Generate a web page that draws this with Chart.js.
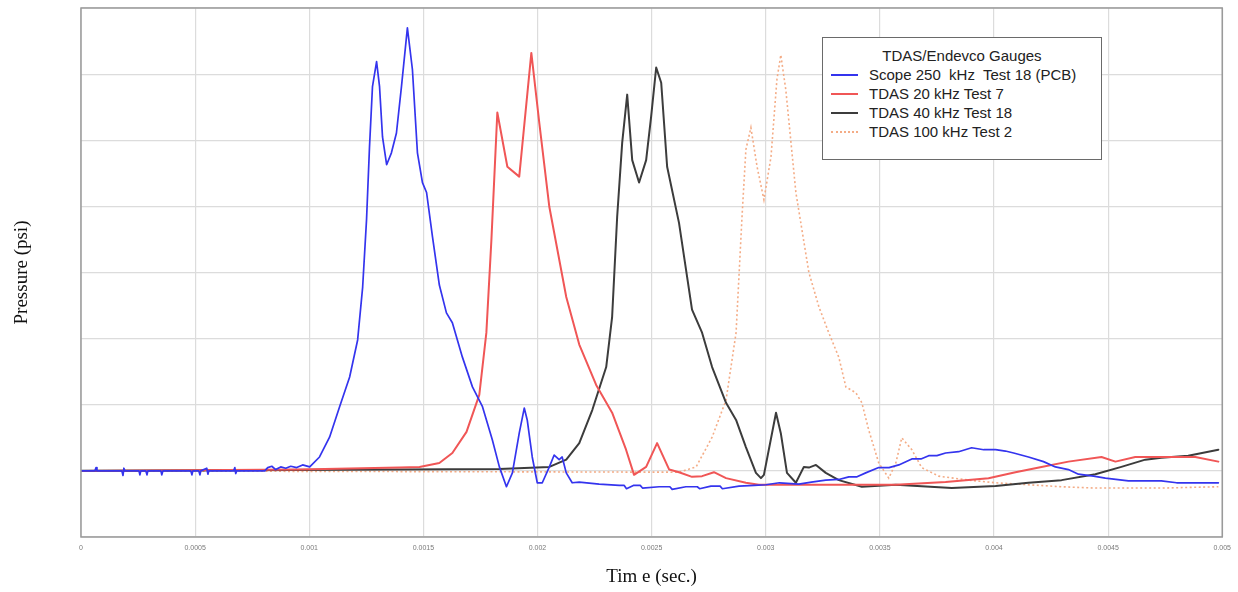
<!DOCTYPE html>
<html>
<head>
<meta charset="utf-8">
<script src="https://cdn.jsdelivr.net/npm/chart.js@4/dist/chart.umd.min.js"></script>
<style>
  html, body { margin: 0; padding: 0; background: #fff; }
  #wrap { position: relative; width: 1238px; height: 592px; }
  #legend {
    position: absolute; left: 822px; top: 37px; width: 278px; height: 113px;
    border: 1.5px solid #6a6a6a; background: #fff;
    font-family: "Liberation Sans", Arial, sans-serif; font-size: 15px; color: #222;
    box-sizing: content-box; padding-top: 8px;
  }
  #legend .ttl { text-align: center; line-height: 19px; height: 19px; }
  #legend .row { display: flex; align-items: center; height: 19px; line-height: 19px; }
  #legend .sw { width: 27px; margin-left: 8px; margin-right: 11px; height: 0; }
</style>
</head>
<body>
<div id="wrap">
  <canvas id="chart" width="1238" height="592"></canvas>
  <div id="legend"></div>
</div>
<script>
// 时间单位: 秒; 压力为相对刻度 (每格 1)
const xTicks = [0, 0.0005, 0.001, 0.0015, 0.002, 0.0025, 0.003, 0.0035, 0.004, 0.0045, 0.005];
const legendTitle = 'TDAS/Endevco Gauges';
const seriesNames = ['Scope 250  kHz  Test 18 (PCB)', 'TDAS 20 kHz Test 7', 'TDAS 40 kHz Test 18', 'TDAS 100 kHz Test 2'];

const blueTime = [
  0, 0.000061, 0.000066, 0.000070, 0.000179, 0.000184, 0.000188, 0.000192, 0.000254, 0.000258,
  0.000262, 0.000284, 0.000289, 0.000293, 0.000350, 0.000354, 0.000359, 0.000481, 0.000486, 0.000490,
  0.000516, 0.000521, 0.000525, 0.000551, 0.000556, 0.000560, 0.000669, 0.000674, 0.000678, 0.000682,
  0.000805, 0.000818, 0.000836, 0.000853, 0.000875, 0.000897, 0.000919, 0.000945, 0.000971,
  0.001002, 0.001045, 0.001089, 0.001133, 0.001177, 0.001212, 0.001234, 0.001251, 0.001264, 0.001277,
  0.001295, 0.001308, 0.001321, 0.001339, 0.001360, 0.001382, 0.001404, 0.001430, 0.001452, 0.001474,
  0.001496, 0.001514, 0.001540, 0.001570, 0.001601, 0.001627, 0.001671, 0.001715, 0.001759, 0.001802,
  0.001833, 0.001864, 0.001890, 0.001920, 0.001942, 0.001955, 0.001977, 0.001999, 0.002021, 0.002052,
  0.002073, 0.002095, 0.002108, 0.002126, 0.002152, 0.002183, 0.002270,
  0.002358, 0.002380, 0.002390, 0.002420, 0.002450, 0.002460, 0.002533, 0.002580, 0.002590, 0.002650,
  0.002700, 0.002710, 0.002760, 0.002800, 0.002810, 0.002883, 0.002950, 0.003001, 0.003060, 0.003145,
  0.003200, 0.003263, 0.003320, 0.003364, 0.003400, 0.003438, 0.003495, 0.003540, 0.003583, 0.003640,
  0.003680, 0.003714, 0.003750, 0.003788, 0.003845, 0.003902, 0.003955, 0.004007, 0.004050, 0.004086,
  0.004151, 0.004217, 0.004269, 0.004326, 0.004370, 0.004436, 0.004488, 0.004589, 0.004640, 0.004733,
  0.004800, 0.004851, 0.004920, 0.004983
];
const bluePsi = [
  0, 0, 0.05, 0, 0, -0.07, 0.04, 0, 0, -0.06,
  0, 0, -0.06, 0, 0, -0.06, 0, 0, -0.06, 0,
  0, -0.06, 0, 0.04, -0.05, 0, 0, 0.05, -0.04, 0,
  0, 0.05, 0.07, 0.02, 0.06, 0.04, 0.07, 0.05, 0.09,
  0.06, 0.21, 0.51, 0.97, 1.42, 1.98, 2.78, 3.80, 4.90, 5.81,
  6.19, 5.81, 5.05, 4.63, 4.81, 5.11, 5.81, 6.70, 6.07, 4.81,
  4.36, 4.21, 3.54, 2.81, 2.39, 2.24, 1.72, 1.27, 0.97, 0.47,
  0.06, -0.24, -0.03, 0.57, 0.95, 0.77, 0.21, -0.18, -0.18, 0.06,
  0.24, 0.17, 0.21, -0.03, -0.18, -0.17, -0.20,
  -0.22, -0.22, -0.27, -0.22, -0.22, -0.26, -0.24, -0.24, -0.28, -0.24,
  -0.24, -0.27, -0.23, -0.23, -0.27, -0.23, -0.22, -0.21, -0.18, -0.20,
  -0.17, -0.14, -0.13, -0.09, -0.09, -0.03, 0.05, 0.05, 0.09, 0.18,
  0.18, 0.23, 0.23, 0.27, 0.29, 0.35, 0.32, 0.32, 0.30, 0.27,
  0.21, 0.14, 0.06, 0.02, -0.05, -0.08, -0.11, -0.15, -0.15, -0.15,
  -0.18, -0.18, -0.18, -0.18
];

const redTime = [
  0, 0.000958, 0.001395, 0.001483, 0.001570, 0.001627, 0.001689, 0.001745, 0.001776, 0.001798,
  0.001824, 0.001868, 0.001920, 0.001973, 0.002008, 0.002052, 0.002126, 0.002183, 0.002257, 0.002327,
  0.002388, 0.002423, 0.002476, 0.002524, 0.002577, 0.002620, 0.002677, 0.002721, 0.002773, 0.002826,
  0.002913, 0.002970, 0.003276, 0.003570, 0.003788, 0.003976, 0.004094, 0.004208, 0.004326, 0.004471,
  0.004532, 0.004619, 0.004733, 0.004882, 0.004983
];
const redPsi = [
  0, 0.02, 0.05, 0.06, 0.12, 0.27, 0.59, 1.15, 2.09, 3.49,
  5.42, 4.60, 4.45, 6.32, 5.26, 3.99, 2.63, 1.91, 1.30, 0.88,
  0.32, -0.06, 0.06, 0.42, 0.02, -0.02, -0.09, -0.08, -0.02, -0.11,
  -0.18, -0.21, -0.21, -0.21, -0.17, -0.11, -0.02, 0.06, 0.14, 0.21,
  0.14, 0.21, 0.21, 0.21, 0.14
];

const blackTime = [
  0, 0.001395, 0.001833, 0.002052, 0.002126, 0.002183, 0.002240, 0.002301, 0.002327, 0.002349,
  0.002371, 0.002393, 0.002415, 0.002445, 0.002476, 0.002498, 0.002520, 0.002542, 0.002568, 0.002620,
  0.002677, 0.002721, 0.002765, 0.002826, 0.002870, 0.002913, 0.002957, 0.002979, 0.002992, 0.003045,
  0.003066, 0.003093, 0.003132, 0.003167, 0.003189, 0.003220, 0.003263, 0.003320, 0.003421, 0.003570,
  0.003815, 0.004007, 0.004151, 0.004296, 0.004444, 0.004558, 0.004663, 0.004733, 0.004851, 0.004983
];
const blackPsi = [
  0, 0.02, 0.03, 0.06, 0.17, 0.42, 0.92, 1.57, 2.33, 3.84,
  4.96, 5.69, 4.70, 4.36, 4.70, 5.36, 6.10, 5.87, 4.60, 3.75,
  2.44, 2.09, 1.57, 1.03, 0.77, 0.36, -0.03, -0.11, -0.06, 0.88,
  0.57, -0.03, -0.18, 0.06, 0.05, 0.09, -0.03, -0.14, -0.24, -0.21,
  -0.26, -0.23, -0.18, -0.14, -0.05, 0.06, 0.17, 0.20, 0.23, 0.32
];

const orangeTime = [
  0, 0.002620, 0.002695, 0.002765, 0.002826, 0.002870, 0.002896, 0.002913, 0.002935, 0.002962,
  0.002992, 0.003023, 0.003049, 0.003066, 0.003088, 0.003132, 0.003189, 0.003233, 0.003276, 0.003320,
  0.003351, 0.003395, 0.003421, 0.003451, 0.003495, 0.003539, 0.003570, 0.003596, 0.003640, 0.003683,
  0.003758, 0.003889, 0.004007, 0.004296, 0.004444, 0.004733, 0.004983
];
const orangePsi = [
  0, -0.02, 0.06, 0.51, 1.07, 2.09, 3.84, 4.86, 5.19, 4.60,
  4.10, 4.75, 5.92, 6.29, 5.76, 4.21, 3.00, 2.48, 2.09, 1.72,
  1.27, 1.18, 1.03, 0.62, 0.12, -0.11, 0.12, 0.50, 0.32, 0.05,
  -0.08, -0.14, -0.18, -0.24, -0.26, -0.26, -0.24
];

const toPoints = (ts, vs) => ts.map((t, i) => ({ x: t, y: vs[i] }));

const serif = '"Liberation Serif", "Times New Roman", serif';

// 绘图区外框
const framePlugin = {
  id: 'frame',
  afterDatasetsDraw(chart) {
    const { ctx, chartArea: a } = chart;
    ctx.save();
    ctx.strokeStyle = '#9a9a9a';
    ctx.lineWidth = 1.5;
    ctx.strokeRect(a.left, a.top, a.right - a.left, a.bottom - a.top);
    ctx.restore();
  },
};

const chart = new Chart(document.getElementById('chart'), {
  type: 'line',
  data: {
    datasets: [
      { label: seriesNames[0], data: toPoints(blueTime, bluePsi), borderColor: '#3434ee', borderWidth: 1.7 },
      { label: seriesNames[1], data: toPoints(redTime, redPsi), borderColor: '#f05656', borderWidth: 2 },
      { label: seriesNames[2], data: toPoints(blackTime, blackPsi), borderColor: '#3c3c3c', borderWidth: 2 },
      {
        label: seriesNames[3], data: toPoints(orangeTime, orangePsi), borderColor: '#f4ac86',
        borderWidth: 1.6, borderDash: [2, 2.5], borderCapStyle: 'butt', borderJoinStyle: 'miter',
      },
    ],
  },
  options: {
    responsive: false,
    animation: false,
    layout: { padding: { top: 8, right: 14, left: 0, bottom: 0 } },
    elements: {
      point: { radius: 0 },
      line: { tension: 0, borderJoinStyle: 'round', borderCapStyle: 'round' },
    },
    plugins: { legend: { display: false }, tooltip: { enabled: false } },
    scales: {
      x: {
        type: 'linear',
        min: 0,
        max: 0.005,
        afterBuildTicks: (s) => { s.ticks = xTicks.map(v => ({ value: v })); },
        afterFit: (s) => { s.height = 55; },
        grid: { color: '#dcdcdc', lineWidth: 1.2, drawTicks: false },
        border: { display: false },
        ticks: {
          padding: 7,
          color: '#7a7a7a',
          font: { size: 7, family: '"Liberation Sans", Arial, sans-serif' },
          maxRotation: 0,
          autoSkip: false,
          callback: (v) => String(Number(Number(v).toFixed(4))),
        },
        title: {
          display: true,
          text: 'Tim e (sec.)',
          color: '#111',
          font: { size: 19, family: serif },
          padding: { top: 0, bottom: 4 },
        },
      },
      y: {
        min: -1,
        max: 7,
        afterFit: (s) => { s.width = 81; },
        grid: { color: '#dcdcdc', lineWidth: 1.2, drawTicks: false },
        border: { display: false },
        ticks: { display: false, stepSize: 1 },
        title: {
          display: true,
          text: 'Pressure (psi)',
          color: '#111',
          font: { size: 19, family: serif },
          padding: { top: 11, bottom: 0 },
        },
      },
    },
  },
  plugins: [framePlugin],
});

// HTML 图例
function renderLegend() {
  const box = document.getElementById('legend');
  box.innerHTML = '';
  const ttl = document.createElement('div');
  ttl.className = 'ttl';
  ttl.textContent = legendTitle;
  box.appendChild(ttl);
  for (const ds of chart.data.datasets) {
    const row = document.createElement('div');
    row.className = 'row';
    const sw = document.createElement('span');
    sw.className = 'sw';
    const dashed = ds.borderDash && ds.borderDash.length;
    sw.style.borderTop = `2px ${dashed ? 'dotted' : 'solid'} ${ds.borderColor}`;
    const txt = document.createElement('span');
    txt.textContent = ds.label;
    txt.style.whiteSpace = 'pre';
    row.appendChild(sw);
    row.appendChild(txt);
    box.appendChild(row);
  }
}
renderLegend();
</script>
</body>
</html>
